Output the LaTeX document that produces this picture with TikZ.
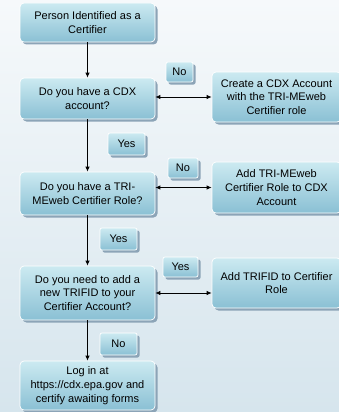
\documentclass[tikz,border=0pt]{standalone}
\usepackage{fontspec}
\setmainfont{Liberation Sans}
\usetikzlibrary{arrows.meta, positioning, shadows}

\definecolor{bglight}{RGB}{246,249,251}
\definecolor{bgdark}{RGB}{214,229,237}
\definecolor{boxtop}{RGB}{204,234,241}
\definecolor{boxbot}{RGB}{138,192,212}
\definecolor{shadowc}{RGB}{140,164,183}

\tikzset{
  flowbox/.style={rectangle, rounded corners=4pt, draw=white, line width=0.7pt,
    top color=boxtop, bottom color=boxbot, align=center, inner sep=2pt,
    font=\fontsize{11}{13.7}\selectfont,
    drop shadow={shadow xshift=2.5pt, shadow yshift=-2.5pt, fill=shadowc, opacity=1}},
  answer/.style={flowbox, rounded corners=2pt, inner sep=1pt},
  flow/.style={-{Latex[length=5pt,width=4.5pt]}, line width=0.8pt},
  both/.style={{Latex[length=5pt,width=4.5pt]}-{Latex[length=5pt,width=4.5pt]}, line width=0.8pt}
}

\begin{document}
\begin{tikzpicture}[x=1pt, y=-1pt]
  \clip (0,0) rectangle (339,412);
  \shade[top color=bglight, bottom color=bgdark] (0,0) rectangle (339,412);

  % left column
  \node (certifier) [flowbox, minimum width=135pt, minimum height=39pt] at (87.5,22.5)
        {Person Identified as a\\Certifier};
  \node (hascdx) [flowbox, minimum width=135pt, minimum height=41pt] at (87.5,98.5)
        {Do you have a CDX\\account?};
  \node (hasrole) [flowbox, minimum width=135pt, minimum height=43pt] at (87.5,193.5)
        {Do you have a TRI-\\MEweb Certifier Role?};
  \node (needfid) [flowbox, minimum width=135pt, minimum height=54pt] at (87.5,293)
        {Do you need to add a\\new TRIFID to your\\Certifier Account?};
  \node (login) [flowbox, minimum width=135pt, minimum height=49pt] at (87.5,385.5)
        {Log in at\\https://cdx.epa.gov and\\certify awaiting forms};

  % right column
  \node (makecdx) [flowbox, minimum width=129pt, minimum height=50pt] at (276.5,97)
        {Create a CDX Account\\with the TRI-MEweb\\Certifier role};
  \node (addrole) [flowbox, minimum width=129pt, minimum height=51pt] at (276.5,187.5)
        {Add TRI-MEweb\\Certifier Role to CDX\\Account};
  \node (addfid) [flowbox, minimum width=129pt, minimum height=50pt] at (276.5,283)
        {Add TRIFID to Certifier\\Role};

  % answers
  \node (no1) [answer, minimum width=27pt, minimum height=20pt] at (179.5,72) {No};
  \node (yes1) [answer, minimum width=37pt, minimum height=22pt] at (126.5,144) {Yes};
  \node (no2) [answer, minimum width=30pt, minimum height=20pt] at (183,168) {No};
  \node (yes2) [answer, minimum width=37pt, minimum height=22pt] at (118.5,239) {Yes};
  \node (yes3) [answer, minimum width=35pt, minimum height=20pt] at (180.5,267) {Yes};
  \node (no3) [answer, minimum width=37pt, minimum height=22pt] at (118.5,344) {No};

  \draw [flow] (certifier) -- (hascdx);
  \draw [flow] (hascdx) -- (hasrole);
  \draw [flow] (hasrole) -- (needfid);
  \draw [flow] (needfid) -- (login);

  \draw [both] (hascdx.east |- makecdx.west) -- (makecdx.west);
  \draw [both] (hasrole.east |- addrole.west) -- (addrole.west);
  \draw [both] (needfid.east) -- (needfid.east -| addfid.west);
\end{tikzpicture}
\end{document}
